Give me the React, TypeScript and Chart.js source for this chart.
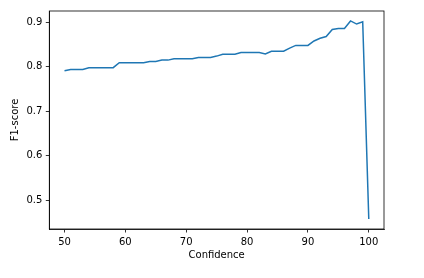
import React, { useEffect, useRef } from "react";
import { Chart, registerables } from "chart.js";

Chart.register(...registerables);

const confidence: number[] = [
  50, 51, 52, 53, 54, 55, 56, 57, 58, 59, 60, 61, 62, 63, 64, 65, 66, 67, 68, 69,
  70, 71, 72, 73, 74, 75, 76, 77, 78, 79, 80, 81, 82, 83, 84, 85, 86, 87, 88, 89,
  90, 91, 92, 93, 94, 95, 96, 97, 98, 99, 100,
];
const f1Score: number[] = [
  0.791, 0.794, 0.794, 0.794, 0.798, 0.798, 0.798, 0.798, 0.798, 0.809,
  0.809, 0.809, 0.809, 0.809, 0.812, 0.812, 0.815, 0.815, 0.818, 0.818,
  0.818, 0.818, 0.821, 0.821, 0.821, 0.824, 0.828, 0.828, 0.828, 0.832,
  0.832, 0.832, 0.832, 0.829, 0.835, 0.835, 0.835, 0.842, 0.848, 0.848,
  0.848, 0.858, 0.864, 0.868, 0.884, 0.886, 0.886, 0.903, 0.896, 0.901,
  0.458,
];
const xTicks: number[] = [50, 60, 70, 80, 90, 100];
const yTicks: number[] = [0.5, 0.6, 0.7, 0.8, 0.9];

const FONT = "'DejaVu Sans', sans-serif";

const frame = {
  id: "frame",
  afterDatasetsDraw(chart: any) {
    const { ctx, chartArea } = chart;
    ctx.save();
    ctx.strokeStyle = "#000";
    ctx.lineWidth = 0.8;
    ctx.strokeRect(chartArea.left, chartArea.top, chartArea.right - chartArea.left, chartArea.bottom - chartArea.top);
    ctx.restore();
  },
};

export default function App() {
  const ref = useRef<HTMLCanvasElement>(null);
  useEffect(() => {
    document.body.style.margin = "0";
    const yMin = 0.458 - 0.0223;
    const yMax = 0.903 + 0.0223;
    const chart = new Chart(ref.current!, {
      type: "line",
      data: {
        datasets: [
          {
            data: confidence.map((c, i) => ({ x: c, y: f1Score[i] })),
            borderColor: "#1f77b4",
            borderWidth: 1.5,
            pointRadius: 0,
            tension: 0,
            fill: false,
          },
        ],
      },
      options: {
        animation: false,
        responsive: false,
        events: [],
        layout: { padding: { top: 11, right: 40, left: 0, bottom: 0 } },
        plugins: { legend: { display: false }, tooltip: { enabled: false } },
        scales: {
          x: {
            type: "linear",
            min: 47.5,
            max: 102.5,
            afterFit: (s: any) => { s.height = 49; },
            afterBuildTicks: (s: any) => { s.ticks = xTicks.map((v) => ({ value: v })); },
            grid: { drawOnChartArea: false, drawTicks: true, tickLength: 3.5, color: "#000", lineWidth: 0.8 },
            border: { display: true, color: "#000", width: 0.8 },
            ticks: { color: "#000", padding: 3.5, maxRotation: 0, font: { family: FONT, size: 10 }, callback: (v: any) => String(v) },
            title: { display: true, text: "Confidence", color: "#000", font: { family: FONT, size: 10 }, padding: { top: 0, bottom: 17 } },
          },
          y: {
            type: "linear",
            min: yMin,
            max: yMax,
            afterFit: (s: any) => { s.width = 49.3; },
            afterBuildTicks: (s: any) => { s.ticks = yTicks.map((v) => ({ value: v })); },
            grid: { drawOnChartArea: false, drawTicks: true, tickLength: 3.5, color: "#000", lineWidth: 0.8 },
            border: { display: true, color: "#000", width: 0.8 },
            ticks: { color: "#000", padding: 3.5, font: { family: FONT, size: 10 }, callback: (v: any) => Number(v).toFixed(1) },
            title: { display: true, text: "F1-score", color: "#000", font: { family: FONT, size: 10 }, padding: { top: 9, bottom: 0 } },
          },
        },
      },
      plugins: [frame],
    } as any);
    return () => chart.destroy();
  }, []);
  return <canvas ref={ref} width={424} height={278} style={{ display: "block" }} />;
}
